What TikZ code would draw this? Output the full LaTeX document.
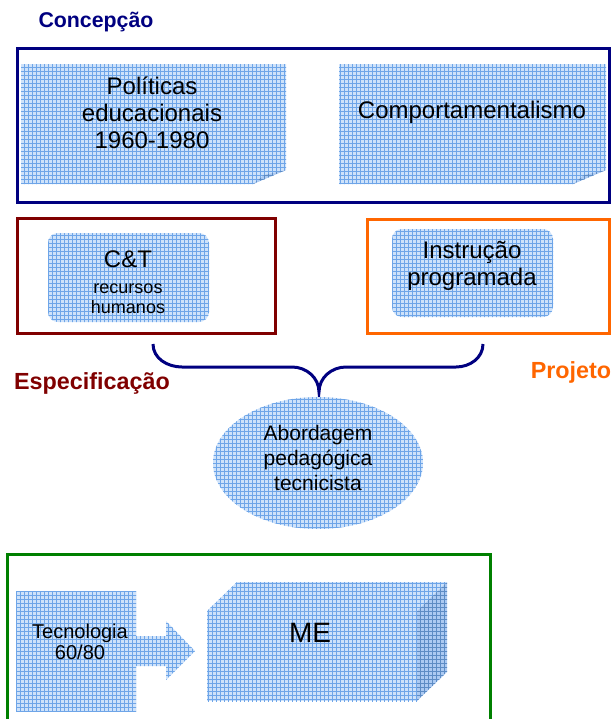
\documentclass[tikz,border=0pt]{standalone}
\usepackage{fontspec}
\setmainfont{Liberation Sans}
\usepackage{tikz}
\usetikzlibrary{patterns}

\definecolor{gradefill}{RGB}{206,226,250}
\definecolor{gradeline}{RGB}{110,165,232}
\definecolor{gradedark}{RGB}{172,202,242}
\definecolor{concnavy}{RGB}{0,0,128}
\definecolor{specred}{RGB}{128,0,0}
\definecolor{projorange}{RGB}{255,102,0}
\definecolor{techgreen}{RGB}{0,128,0}

\begin{document}
\begin{tikzpicture}[x=0.75pt, y=-0.75pt,
    grade/.style={fill=gradefill, postaction={pattern=grid, pattern color=gradeline}},
    gradedeep/.style={fill=gradedark, postaction={pattern=grid, pattern color=gradeline!85!black}},
    frame/.style={line width=2.25pt},
    bigtext/.style={font=\fontsize{18pt}{20.25pt}\selectfont, align=center},
    tagtext/.style={font=\fontsize{17.5pt}{20pt}\selectfont\bfseries}]
    \useasboundingbox (0,0) rectangle (614,719);
    \clip (0,0) rectangle (614,719);

    % --- Concepcao ---
    \node[concnavy, font=\fontsize{16pt}{19pt}\selectfont\bfseries] (concepcao) at (96,22) {Concepção};
    \draw[frame, concnavy] (17,48) rectangle (609,202);

    % Notes with folded corner
    \fill[grade] (21,64) -- (286,64) -- (286,170) -- (253,184) -- (21,184) -- cycle;
    \fill[gradedeep] (253,184) -- (286,170) -- (264,175) -- cycle;
    \node[bigtext] (politicas) at (152,113) {Políticas\\educacionais\\1960-1980};

    \fill[grade] (339,64) -- (606,64) -- (606,170) -- (573,184) -- (339,184) -- cycle;
    \fill[gradedeep] (573,184) -- (606,170) -- (584,175) -- cycle;
    \node[bigtext] (comport) at (472,112) {Comportamentalismo};

    % --- Especificacao ---
    \draw[frame, specred] (17,218) rectangle (275,333);
    \fill[grade, rounded corners=7.5pt] (48,233) rectangle (209,322);
    \node[align=center, font=\fontsize{13.5pt}{15pt}\selectfont] (ct) at (128,282)
        {{\fontsize{18pt}{20pt}\selectfont C\&T}\\[4.5pt]recursos\\humanos};
    \node[tagtext, specred] (especificacao) at (92,383) {Especificação};

    % --- Projeto ---
    \draw[frame, projorange] (367,219) rectangle (609,333);
    \fill[grade, rounded corners=7.5pt] (392,229) rectangle (553,317);
    \node[bigtext] (instrucao) at (472,266) {Instrução\\programada};
    \node[tagtext, projorange] (projeto) at (571,372) {Projeto};

    % Brace joining both boxes
    \coordinate (braceL) at (153,344);
    \coordinate (braceR) at (483,344);
    \coordinate (braceTip) at (319,392);
    \draw[line width=2.25pt, concnavy]
        (braceL) to[out=-90, in=180] (182,367) -- (292,367) to[out=0, in=90] (braceTip)
        to[out=90, in=180] (346,367) -- (456,367) to[out=0, in=-90] (braceR);

    % Approach
    \fill[grade] (318,463) ellipse (105 and 66);
    \node[align=center, font=\fontsize{15.75pt}{18.4pt}\selectfont] (abordagem) at (318,458)
        {Abordagem\\pedagógica\\tecnicista};

    % --- Tecnologia and ME ---
    \draw[frame, techgreen] (7,554) rectangle (490,740);
    \fill[grade] (16,591) rectangle (136,711);
    \node[align=center, font=\fontsize{15pt}{16pt}\selectfont] (tecnologia) at (80,642) {Tecnologia\\60/80};
    \fill[grade] (136,636) -- (166,636) -- (166,621) -- (195,651) -- (166,680) -- (166,666) -- (136,666) -- cycle;

    \fill[grade] (207,611) rectangle (417,701);
    \fill[grade] (207,611) -- (237,582) -- (447,582) -- (417,611) -- cycle;
    \fill[gradedeep] (417,611) -- (447,582) -- (447,672) -- (417,701) -- cycle;
    \node[font=\fontsize{21pt}{24pt}\selectfont] (me) at (310,633) {ME};
\end{tikzpicture}
\end{document}
